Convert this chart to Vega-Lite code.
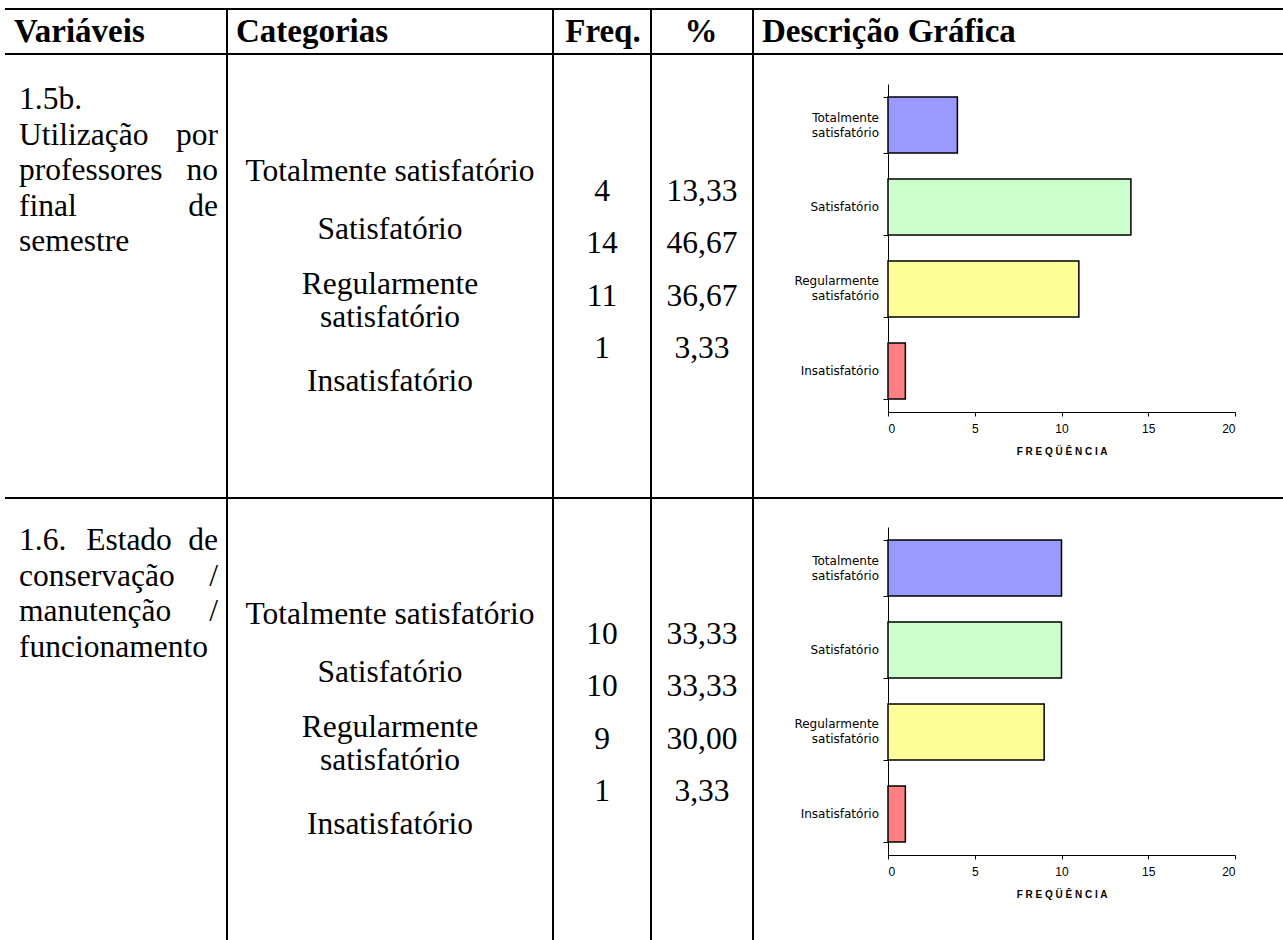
{
  "$schema": "https://vega.github.io/schema/vega-lite/v6.json",
  "width": 1283,
  "height": 940,
  "autosize": {"type": "none"},
  "padding": 0,
  "background": "white",
  "config": {
    "view": {"stroke": null},
    "locale": {"number": {"decimal": ",", "thousands": ".", "grouping": [3], "currency": ["R$", ""]}}
  },
  "datasets": {
    "categorias": [
      {"bloco": 1, "ordem": 1, "categoria": "Totalmente satisfatório", "freq": 4, "pct": 13.33},
      {"bloco": 1, "ordem": 2, "categoria": "Satisfatório", "freq": 14, "pct": 46.67},
      {"bloco": 1, "ordem": 3, "categoria": "Regularmente satisfatório", "freq": 11, "pct": 36.67},
      {"bloco": 1, "ordem": 4, "categoria": "Insatisfatório", "freq": 1, "pct": 3.33},
      {"bloco": 2, "ordem": 1, "categoria": "Totalmente satisfatório", "freq": 10, "pct": 33.33},
      {"bloco": 2, "ordem": 2, "categoria": "Satisfatório", "freq": 10, "pct": 33.33},
      {"bloco": 2, "ordem": 3, "categoria": "Regularmente satisfatório", "freq": 9, "pct": 30.0},
      {"bloco": 2, "ordem": 4, "categoria": "Insatisfatório", "freq": 1, "pct": 3.33}
    ],
    "variaveis": [
      {"bloco": 1, "linha": 1, "esquerda": "1.5b.", "meio": "", "direita": ""},
      {"bloco": 1, "linha": 2, "esquerda": "Utilização", "meio": "", "direita": "por"},
      {"bloco": 1, "linha": 3, "esquerda": "professores", "meio": "", "direita": "no"},
      {"bloco": 1, "linha": 4, "esquerda": "final", "meio": "", "direita": "de"},
      {"bloco": 1, "linha": 5, "esquerda": "semestre", "meio": "", "direita": ""},
      {"bloco": 2, "linha": 1, "esquerda": "1.6.", "meio": "Estado", "direita": "de"},
      {"bloco": 2, "linha": 2, "esquerda": "conservação", "meio": "", "direita": "/"},
      {"bloco": 2, "linha": 3, "esquerda": "manutenção", "meio": "", "direita": "/"},
      {"bloco": 2, "linha": 4, "esquerda": "funcionamento", "meio": "", "direita": ""}
    ],
    "cabecalho": [
      {"titulo": "Variáveis", "coluna": 0},
      {"titulo": "Categorias", "coluna": 1},
      {"titulo": "Freq.", "coluna": 2},
      {"titulo": "%", "coluna": 3},
      {"titulo": "Descrição Gráfica", "coluna": 4}
    ],
    "grade": [
      {"x1": 0, "x2": 5, "y1": 0, "y2": 0},
      {"x1": 0, "x2": 5, "y1": 1, "y2": 1},
      {"x1": 0, "x2": 5, "y1": 2, "y2": 2},
      {"x1": 1, "x2": 1, "y1": 0, "y2": 3},
      {"x1": 2, "x2": 2, "y1": 0, "y2": 3},
      {"x1": 3, "x2": 3, "y1": 0, "y2": 3},
      {"x1": 4, "x2": 4, "y1": 0, "y2": 3}
    ]
  },
  "layer": [
    {
      "data": {"name": "grade"},
      "mark": {"type": "rule", "color": "#000", "strokeWidth": 2},
      "encoding": {
        "x": {"field": "x1", "type": "quantitative", "scale": {"domain": [0, 1, 2, 3, 4, 5], "range": [5, 227, 553, 651, 753, 1283], "zero": false, "nice": false}, "axis": null},
        "x2": {"field": "x2"},
        "y": {"field": "y1", "type": "quantitative", "scale": {"domain": [0, 1, 2, 3], "range": [9, 54, 498, 940], "zero": false, "nice": false}, "axis": null},
        "y2": {"field": "y2"}
      }
    },
    {
      "data": {"name": "cabecalho"},
      "transform": [{"filter": "datum.coluna == 0 || datum.coluna == 1 || datum.coluna == 4"}],
      "mark": {"type": "text", "font": "Liberation Serif", "fontSize": 33, "fontWeight": "bold", "color": "#000", "align": "left", "baseline": "middle", "dx": 9},
      "encoding": {
        "x": {"field": "coluna", "type": "quantitative", "scale": {"domain": [0, 1, 2, 3, 4, 5], "range": [5, 227, 553, 651, 753, 1283], "zero": false, "nice": false}, "axis": null},
        "y": {"datum": 0.5, "type": "quantitative", "scale": {"domain": [0, 1, 2, 3], "range": [9, 54, 498, 940], "zero": false, "nice": false}, "axis": null},
        "text": {"field": "titulo"}
      }
    },
    {
      "data": {"name": "cabecalho"},
      "transform": [{"filter": "datum.coluna == 2 || datum.coluna == 3"}],
      "mark": {"type": "text", "font": "Liberation Serif", "fontSize": 33, "fontWeight": "bold", "color": "#000", "align": "center", "baseline": "middle", "dx": 50},
      "encoding": {
        "x": {"field": "coluna", "type": "quantitative", "scale": {"domain": [0, 1, 2, 3, 4, 5], "range": [5, 227, 553, 651, 753, 1283], "zero": false, "nice": false}, "axis": null},
        "y": {"datum": 0.5, "type": "quantitative", "scale": {"domain": [0, 1, 2, 3], "range": [9, 54, 498, 940], "zero": false, "nice": false}, "axis": null},
        "text": {"field": "titulo"}
      }
    },
    {
      "data": {"name": "variaveis"},
      "transform": [{"filter": "datum.bloco == 1"}],
      "mark": {"type": "text", "font": "Liberation Serif", "fontSize": 31.5, "color": "#000", "align": "left", "baseline": "middle", "dx": 14},
      "encoding": {
        "x": {"datum": 0, "type": "quantitative", "scale": {"domain": [0, 1, 2, 3, 4, 5], "range": [5, 227, 553, 651, 753, 1283], "zero": false, "nice": false}, "axis": null},
        "y": {"field": "linha", "type": "quantitative", "scale": {"domain": [1, 5], "range": [100, 242], "zero": false, "nice": false}, "axis": null},
        "text": {"field": "esquerda"}
      }
    },
    {
      "data": {"name": "variaveis"},
      "transform": [{"filter": "datum.bloco == 1"}],
      "mark": {"type": "text", "font": "Liberation Serif", "fontSize": 31.5, "color": "#000", "align": "right", "baseline": "middle", "dx": -9},
      "encoding": {
        "x": {"datum": 1, "type": "quantitative", "scale": {"domain": [0, 1, 2, 3, 4, 5], "range": [5, 227, 553, 651, 753, 1283], "zero": false, "nice": false}, "axis": null},
        "y": {"field": "linha", "type": "quantitative", "scale": {"domain": [1, 5], "range": [100, 242], "zero": false, "nice": false}, "axis": null},
        "text": {"field": "direita"}
      }
    },
    {
      "data": {"name": "categorias"},
      "transform": [
        {"filter": "datum.bloco == 1"},
        {"calculate": "replace(datum.categoria, 'Regularmente ', 'Regularmente\\n')", "as": "rotulo"}
      ],
      "mark": {"type": "text", "font": "Liberation Serif", "fontSize": 31.5, "color": "#000", "align": "center", "baseline": "middle", "lineBreak": "\n", "lineHeight": 33},
      "encoding": {
        "x": {"datum": 1.5, "type": "quantitative", "scale": {"domain": [0, 1, 2, 3, 4, 5], "range": [5, 227, 553, 651, 753, 1283], "zero": false, "nice": false}, "axis": null},
        "y": {"field": "ordem", "type": "quantitative", "scale": {"domain": [1, 2, 3, 4], "range": [172, 230, 285, 382], "zero": false, "nice": false}, "axis": null},
        "text": {"field": "rotulo"}
      }
    },
    {
      "data": {"name": "categorias"},
      "transform": [{"filter": "datum.bloco == 1"}],
      "mark": {"type": "text", "font": "Liberation Serif", "fontSize": 31.5, "color": "#000", "align": "center", "baseline": "middle"},
      "encoding": {
        "x": {"datum": 2.5, "type": "quantitative", "scale": {"domain": [0, 1, 2, 3, 4, 5], "range": [5, 227, 553, 651, 753, 1283], "zero": false, "nice": false}, "axis": null},
        "y": {"field": "ordem", "type": "quantitative", "scale": {"domain": [1, 4], "range": [192, 349], "zero": false, "nice": false}, "axis": null},
        "text": {"field": "freq", "type": "quantitative", "format": "d"}
      }
    },
    {
      "data": {"name": "categorias"},
      "transform": [{"filter": "datum.bloco == 1"}],
      "mark": {"type": "text", "font": "Liberation Serif", "fontSize": 31.5, "color": "#000", "align": "center", "baseline": "middle"},
      "encoding": {
        "x": {"datum": 3.5, "type": "quantitative", "scale": {"domain": [0, 1, 2, 3, 4, 5], "range": [5, 227, 553, 651, 753, 1283], "zero": false, "nice": false}, "axis": null},
        "y": {"field": "ordem", "type": "quantitative", "scale": {"domain": [1, 4], "range": [192, 349], "zero": false, "nice": false}, "axis": null},
        "text": {"field": "pct", "type": "quantitative", "format": ".2f"}
      }
    },
    {
      "data": {"name": "categorias"},
      "transform": [{"filter": "datum.bloco == 1"}],
      "encoding": {
        "y": {
          "field": "categoria", "type": "nominal",
          "scale": {"domain": ["Totalmente satisfatório", "Satisfatório", "Regularmente satisfatório", "Insatisfatório"], "range": [84, 412], "paddingInner": 0.317, "paddingOuter": 0.159},
          "axis": {"orient": "left", "offset": -888, "title": null, "labels": false, "tickBand": "extent", "tickSize": 5, "tickColor": "#000", "domainColor": "#000"}
        }
      },
      "layer": [
        {
          "mark": {"type": "bar", "stroke": "#000", "strokeWidth": 1.5},
          "encoding": {
            "x": {
              "field": "freq", "type": "quantitative",
              "scale": {"domain": [0, 20], "range": [888, 1235], "zero": true, "nice": false},
              "axis": {"orient": "bottom", "offset": -528, "values": [0, 5, 10, 15, 20], "format": "d", "grid": false, "tickSize": 4, "tickColor": "#000", "domainColor": "#000", "labelFont": "Liberation Sans", "labelFontSize": 12, "labelColor": "#000", "labelPadding": 7, "title": "F R E Q Ü Ê N C I A", "titleFont": "Liberation Sans", "titleFontSize": 10, "titleFontWeight": "bold", "titleColor": "#000", "titlePadding": 12}
            },
            "color": {"field": "categoria", "type": "nominal", "scale": {"domain": ["Totalmente satisfatório", "Satisfatório", "Regularmente satisfatório", "Insatisfatório"], "range": ["#9999FF", "#CCFFCC", "#FFFF99", "#FF8080"]}, "legend": null}
          }
        },
        {
          "transform": [{"filter": "indexof(datum.categoria, ' ') < 0"}],
          "mark": {"type": "text", "font": "DejaVu Sans", "fontSize": 12, "color": "#000", "align": "right", "baseline": "middle", "dx": -9},
          "encoding": {
            "x": {"datum": 0, "type": "quantitative"},
            "text": {"field": "categoria"}
          }
        },
        {
          "transform": [{"filter": "indexof(datum.categoria, ' ') > 0"}],
          "mark": {"type": "text", "font": "DejaVu Sans", "fontSize": 12, "color": "#000", "align": "right", "baseline": "middle", "dx": -9, "dy": -7.5, "lineBreak": " ", "lineHeight": 15},
          "encoding": {
            "x": {"datum": 0, "type": "quantitative"},
            "text": {"field": "categoria"}
          }
        }
      ]
    },
    {
      "data": {"name": "variaveis"},
      "transform": [{"filter": "datum.bloco == 2"}],
      "mark": {"type": "text", "font": "Liberation Serif", "fontSize": 31.5, "color": "#000", "align": "left", "baseline": "middle", "dx": 14},
      "encoding": {
        "x": {"datum": 0, "type": "quantitative", "scale": {"domain": [0, 1, 2, 3, 4, 5], "range": [5, 227, 553, 651, 753, 1283], "zero": false, "nice": false}, "axis": null},
        "y": {"field": "linha", "type": "quantitative", "scale": {"domain": [1, 5], "range": [541, 683], "zero": false, "nice": false}, "axis": null},
        "text": {"field": "esquerda"}
      }
    },
    {
      "data": {"name": "variaveis"},
      "transform": [{"filter": "datum.bloco == 2"}],
      "mark": {"type": "text", "font": "Liberation Serif", "fontSize": 31.5, "color": "#000", "align": "center", "baseline": "middle", "dx": 13},
      "encoding": {
        "x": {"datum": 0.5, "type": "quantitative", "scale": {"domain": [0, 1, 2, 3, 4, 5], "range": [5, 227, 553, 651, 753, 1283], "zero": false, "nice": false}, "axis": null},
        "y": {"field": "linha", "type": "quantitative", "scale": {"domain": [1, 5], "range": [541, 683], "zero": false, "nice": false}, "axis": null},
        "text": {"field": "meio"}
      }
    },
    {
      "data": {"name": "variaveis"},
      "transform": [{"filter": "datum.bloco == 2"}],
      "mark": {"type": "text", "font": "Liberation Serif", "fontSize": 31.5, "color": "#000", "align": "right", "baseline": "middle", "dx": -9},
      "encoding": {
        "x": {"datum": 1, "type": "quantitative", "scale": {"domain": [0, 1, 2, 3, 4, 5], "range": [5, 227, 553, 651, 753, 1283], "zero": false, "nice": false}, "axis": null},
        "y": {"field": "linha", "type": "quantitative", "scale": {"domain": [1, 5], "range": [541, 683], "zero": false, "nice": false}, "axis": null},
        "text": {"field": "direita"}
      }
    },
    {
      "data": {"name": "categorias"},
      "transform": [
        {"filter": "datum.bloco == 2"},
        {"calculate": "replace(datum.categoria, 'Regularmente ', 'Regularmente\\n')", "as": "rotulo"}
      ],
      "mark": {"type": "text", "font": "Liberation Serif", "fontSize": 31.5, "color": "#000", "align": "center", "baseline": "middle", "lineBreak": "\n", "lineHeight": 33},
      "encoding": {
        "x": {"datum": 1.5, "type": "quantitative", "scale": {"domain": [0, 1, 2, 3, 4, 5], "range": [5, 227, 553, 651, 753, 1283], "zero": false, "nice": false}, "axis": null},
        "y": {"field": "ordem", "type": "quantitative", "scale": {"domain": [1, 2, 3, 4], "range": [615, 673, 728, 825], "zero": false, "nice": false}, "axis": null},
        "text": {"field": "rotulo"}
      }
    },
    {
      "data": {"name": "categorias"},
      "transform": [{"filter": "datum.bloco == 2"}],
      "mark": {"type": "text", "font": "Liberation Serif", "fontSize": 31.5, "color": "#000", "align": "center", "baseline": "middle"},
      "encoding": {
        "x": {"datum": 2.5, "type": "quantitative", "scale": {"domain": [0, 1, 2, 3, 4, 5], "range": [5, 227, 553, 651, 753, 1283], "zero": false, "nice": false}, "axis": null},
        "y": {"field": "ordem", "type": "quantitative", "scale": {"domain": [1, 4], "range": [635, 792], "zero": false, "nice": false}, "axis": null},
        "text": {"field": "freq", "type": "quantitative", "format": "d"}
      }
    },
    {
      "data": {"name": "categorias"},
      "transform": [{"filter": "datum.bloco == 2"}],
      "mark": {"type": "text", "font": "Liberation Serif", "fontSize": 31.5, "color": "#000", "align": "center", "baseline": "middle"},
      "encoding": {
        "x": {"datum": 3.5, "type": "quantitative", "scale": {"domain": [0, 1, 2, 3, 4, 5], "range": [5, 227, 553, 651, 753, 1283], "zero": false, "nice": false}, "axis": null},
        "y": {"field": "ordem", "type": "quantitative", "scale": {"domain": [1, 4], "range": [635, 792], "zero": false, "nice": false}, "axis": null},
        "text": {"field": "pct", "type": "quantitative", "format": ".2f"}
      }
    },
    {
      "data": {"name": "categorias"},
      "transform": [{"filter": "datum.bloco == 2"}],
      "encoding": {
        "y": {
          "field": "categoria", "type": "nominal",
          "scale": {"domain": ["Totalmente satisfatório", "Satisfatório", "Regularmente satisfatório", "Insatisfatório"], "range": [527, 855], "paddingInner": 0.317, "paddingOuter": 0.159},
          "axis": {"orient": "left", "offset": -888, "title": null, "labels": false, "tickBand": "extent", "tickSize": 5, "tickColor": "#000", "domainColor": "#000"}
        }
      },
      "layer": [
        {
          "mark": {"type": "bar", "stroke": "#000", "strokeWidth": 1.5},
          "encoding": {
            "x": {
              "field": "freq", "type": "quantitative",
              "scale": {"domain": [0, 20], "range": [888, 1235], "zero": true, "nice": false},
              "axis": {"orient": "bottom", "offset": -85, "values": [0, 5, 10, 15, 20], "format": "d", "grid": false, "tickSize": 4, "tickColor": "#000", "domainColor": "#000", "labelFont": "Liberation Sans", "labelFontSize": 12, "labelColor": "#000", "labelPadding": 7, "title": "F R E Q Ü Ê N C I A", "titleFont": "Liberation Sans", "titleFontSize": 10, "titleFontWeight": "bold", "titleColor": "#000", "titlePadding": 12}
            },
            "color": {"field": "categoria", "type": "nominal", "scale": {"domain": ["Totalmente satisfatório", "Satisfatório", "Regularmente satisfatório", "Insatisfatório"], "range": ["#9999FF", "#CCFFCC", "#FFFF99", "#FF8080"]}, "legend": null}
          }
        },
        {
          "transform": [{"filter": "indexof(datum.categoria, ' ') < 0"}],
          "mark": {"type": "text", "font": "DejaVu Sans", "fontSize": 12, "color": "#000", "align": "right", "baseline": "middle", "dx": -9},
          "encoding": {
            "x": {"datum": 0, "type": "quantitative"},
            "text": {"field": "categoria"}
          }
        },
        {
          "transform": [{"filter": "indexof(datum.categoria, ' ') > 0"}],
          "mark": {"type": "text", "font": "DejaVu Sans", "fontSize": 12, "color": "#000", "align": "right", "baseline": "middle", "dx": -9, "dy": -7.5, "lineBreak": " ", "lineHeight": 15},
          "encoding": {
            "x": {"datum": 0, "type": "quantitative"},
            "text": {"field": "categoria"}
          }
        }
      ]
    }
  ],
  "resolve": {"scale": {"x": "independent", "y": "independent"}}
}
